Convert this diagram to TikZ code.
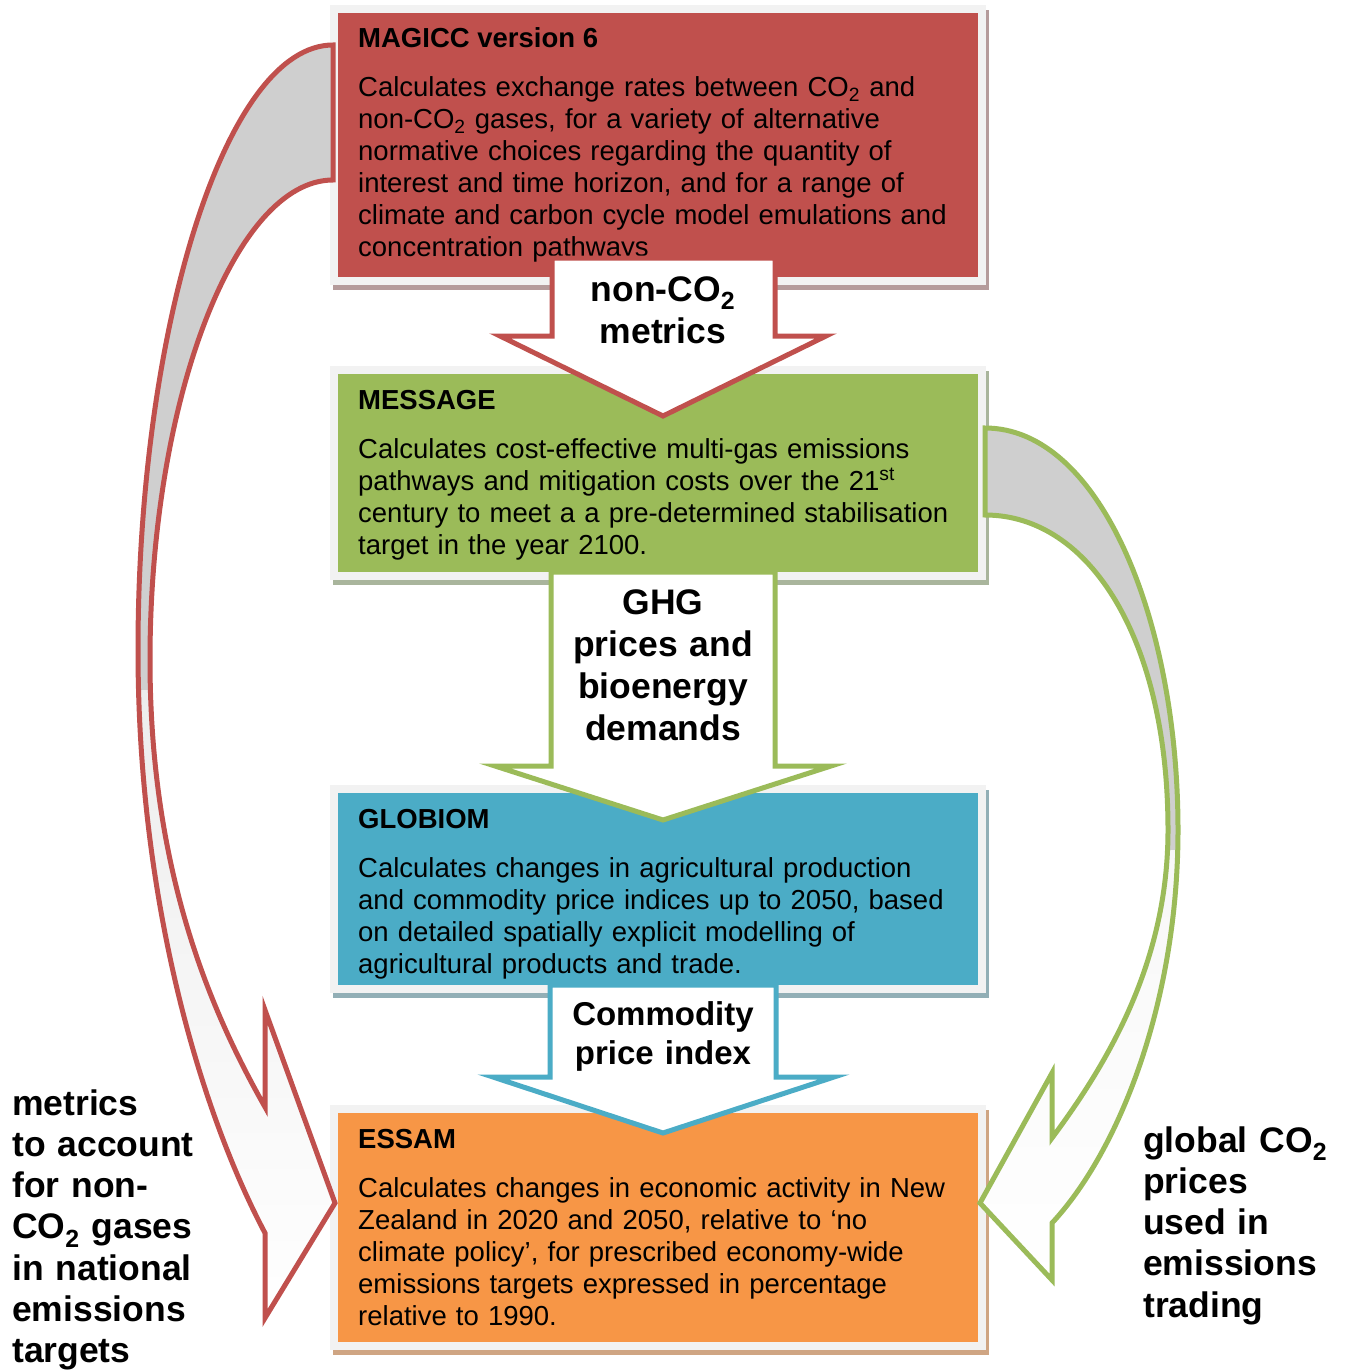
\documentclass[tikz,border=0pt]{standalone}
\usepackage{fontspec}
\setmainfont{Liberation Sans}
\usetikzlibrary{calc}

\definecolor{magred}{HTML}{C0504D}
\definecolor{msggreen}{HTML}{9BBB59}
\definecolor{globblue}{HTML}{4BACC6}
\definecolor{essorange}{HTML}{F79646}
\definecolor{framegray}{HTML}{F2F2F2}
\definecolor{bandgray}{HTML}{CFCFCF}
\definecolor{redshadow}{HTML}{B59B9B}
\definecolor{greenshadow}{HTML}{A9B59C}
\definecolor{blueshadow}{HTML}{92AFB6}
\definecolor{orangeshadow}{HTML}{CFA583}

\tikzset{
  procbox/.style={draw=framegray, line width=8pt, inner sep=0pt, outer sep=0pt, minimum width=648pt,
    preaction={draw=#1, line width=8pt, transform canvas={shift={(3pt,-5pt)}}}},
  boxtitle/.style={anchor=base west, inner sep=0pt, font=\fontsize{27.5}{32}\selectfont\bfseries},
  boxbody/.style={anchor=base west, inner sep=0pt, text width=660pt, align=left,
    font=\fontsize{27.5}{32}\selectfont},
  flowlabel/.style={anchor=base, inner sep=0pt, text width=280pt, align=center,
    font=\fontsize{35.5}{42}\selectfont\bfseries},
  flowarrow/.style={draw=#1, line width=5pt, fill=white, line join=miter},
  sidelabel/.style={anchor=base west, inner sep=0pt, text width=240pt, align=left,
    font=\fontsize{35.5}{41.3}\selectfont\bfseries},
}

\begin{document}
\begin{tikzpicture}[x=1pt, y=-1pt]
    \fill[white] (0,0) rectangle (1345,1370);
    \useasboundingbox (0,0) rectangle (1345,1370);

    % Model boxes
    \node[procbox=redshadow, fill=magred, minimum height=272pt] (magicc) at (658,145) {};
    \node[procbox=greenshadow, fill=msggreen, minimum height=206pt] (message) at (658,473) {};
    \node[procbox=blueshadow, fill=globblue, minimum height=200pt] (globiom) at (658,889) {};
    \node[procbox=orangeshadow, fill=essorange, minimum height=237pt] (essam) at (658,1227.5) {};

    \node[boxtitle] (magiccT) at ($(magicc.north west)+(24,39)$) {MAGICC version 6};
    \node[boxbody] (magiccB) at ($(magiccT.base west)+(0,49)$) {Calculates exchange rates between CO\textsubscript{2} and\\
      non-CO\textsubscript{2} gases, for a variety of alternative\\
      normative choices regarding the quantity of\\
      interest and time horizon, and for a range of\\
      climate and carbon cycle model emulations and\\
      concentration pathways};

    \node[boxtitle] (messageT) at ($(message.north west)+(24,39)$) {MESSAGE};
    \node[boxbody] (messageB) at ($(messageT.base west)+(0,49)$) {Calculates cost-effective multi-gas emissions\\
      pathways and mitigation costs over the 21\textsuperscript{st}\\
      century to meet a a pre-determined stabilisation\\
      target in the year 2100.};

    \node[boxtitle] (globiomT) at ($(globiom.north west)+(24,39)$) {GLOBIOM};
    \node[boxbody] (globiomB) at ($(globiomT.base west)+(0,49)$) {Calculates changes in agricultural production\\
      and commodity price indices up to 2050, based\\
      on detailed spatially explicit modelling of\\
      agricultural products and trade.};

    \node[boxtitle] (essamT) at ($(essam.north west)+(24,39)$) {ESSAM};
    \node[boxbody] (essamB) at ($(essamT.base west)+(0,49)$) {Calculates changes in economic activity in New\\
      Zealand in 2020 and 2050, relative to ‘no\\
      climate policy’, for prescribed economy-wide\\
      emissions targets expressed in percentage\\
      relative to 1990.};

    % Straight block arrows between the boxes
    \draw[flowarrow=magred] (552,258) -- (775,258) -- (775,336) -- (826,336) -- (663,416)
        -- (500,336) -- (552,336) -- cycle;
    \draw[flowarrow=msggreen] (551,572) -- (775,572) -- (775,766) -- (831,766) -- (663,820)
        -- (495,766) -- (551,766) -- cycle;
    \draw[flowarrow=globblue] (550,985) -- (776,985) -- (776,1077) -- (834,1077) -- (663,1133)
        -- (493,1077) -- (550,1077) -- cycle;

    \node[flowlabel] (metricsL) at (663,301) {non-CO\textsubscript{2}\\metrics};
    \node[flowlabel] (ghgL) at (663,614) {GHG\\prices and\\bioenergy\\demands};
    \node[flowlabel, font=\fontsize{33}{39.5}\selectfont\bfseries] (commodityL) at (663,1025) {Commodity\\price index};

    % Curved arrow MAGICC -> ESSAM
    \def\redband{(333,45) .. controls (225,45) and (138,330) .. (138,650)
        .. controls (138,900) and (200,1110) .. (265,1233) -- (265,1318) -- (335,1203)
        -- (265,1010) -- (265,1107) .. controls (210,1010) and (150,870) .. (150,660)
        .. controls (150,400) and (235,180) .. (333,180) -- cycle}
    \begin{scope}
        \clip \redband;
        \fill[bandgray] (100,0) rectangle (400,690);
        \shade[top color=gray!14, bottom color=white] (100,690) rectangle (400,1330);
    \end{scope}
    \draw[magred, line width=5pt, line join=miter] \redband;

    % Curved arrow MESSAGE -> ESSAM
    \def\greenband{(985,428) .. controls (1100,428) and (1178,620) .. (1178,830)
        .. controls (1178,1000) and (1120,1150) .. (1052,1223) -- (1052,1280) -- (980,1203)
        -- (1052,1073) -- (1052,1138) .. controls (1110,1060) and (1168,960) .. (1168,830)
        .. controls (1168,640) and (1090,515) .. (985,515) -- cycle}
    \begin{scope}
        \clip \greenband;
        \fill[bandgray] (950,400) rectangle (1200,850);
        \shade[top color=gray!6, bottom color=white] (950,850) rectangle (1200,1290);
    \end{scope}
    \draw[msggreen, line width=5pt, line join=miter] \greenband;

    % Side labels
    \node[sidelabel] (leftL) at (12,1115) {metrics\\to account\\for non-\\CO\textsubscript{2} gases\\in national\\emissions\\targets};
    \node[sidelabel] (rightL) at (1143,1152) {global CO\textsubscript{2}\\prices\\used in\\emissions\\trading};
\end{tikzpicture}
\end{document}
